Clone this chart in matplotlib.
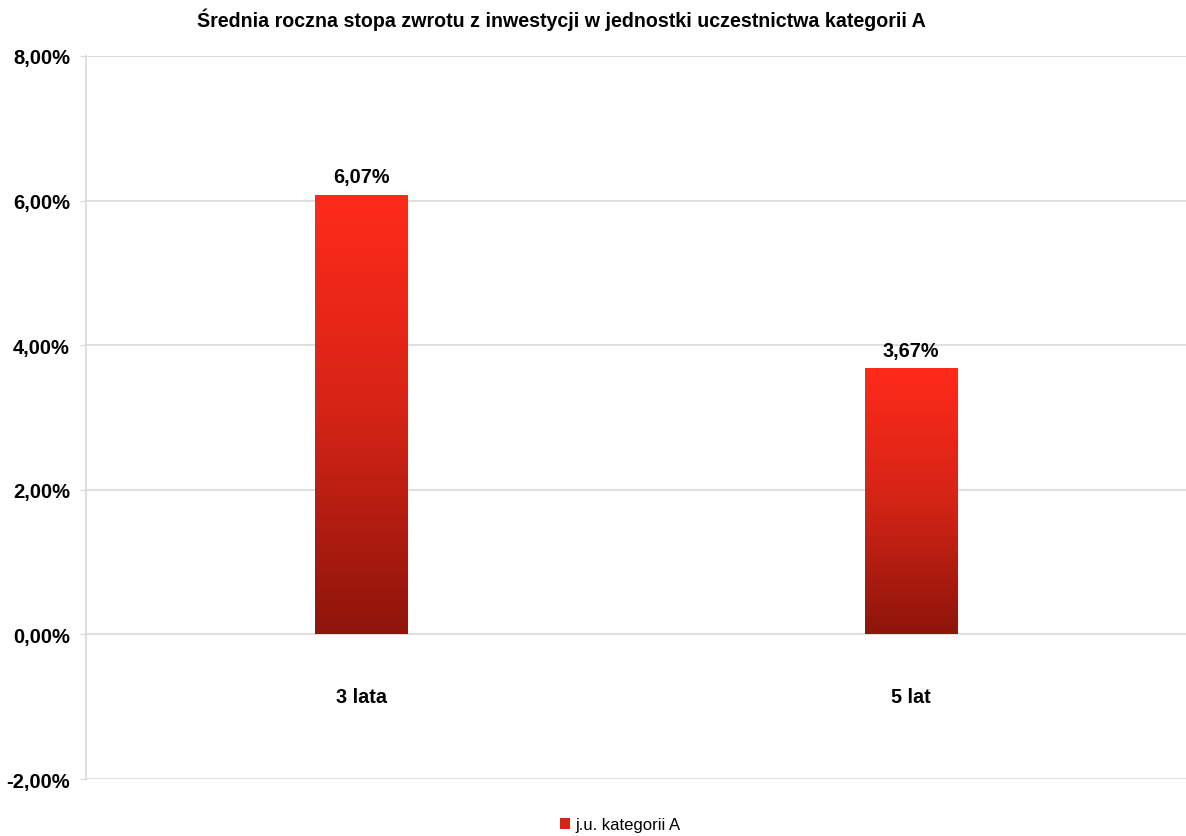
import numpy as np
from matplotlib import pyplot as plt
from matplotlib.colors import LinearSegmentedColormap
from matplotlib.patches import Patch

plt.rcParams['font.family'] = ['Liberation Sans', 'DejaVu Sans']

# data
categories = ['3 lata', '5 lat']
values = [6.07, 3.67]
value_labels = ['6,07%', '3,67%']
yticks = [-2, 0, 2, 4, 6, 8]
ytick_labels = ['-2,00%', '0,00%', '2,00%', '4,00%', '6,00%', '8,00%']
series_name = 'j.u. kategorii A'
title = 'Średnia roczna stopa zwrotu z inwestycji w jednostki uczestnictwa kategorii A'

fig = plt.figure(figsize=(11.86, 8.37), dpi=100)
ax = fig.add_axes([86/1186, 0.0681, 1 - 86/1186, 0.9319 - 0.0681])

# gradient from dark red (bottom) to bright red (top)
cmap = LinearSegmentedColormap.from_list('redgrad', ['#8e150b', '#d42416', '#ff2a1a'])
grad = np.linspace(0, 1, 256).reshape(-1, 1)
width = 0.168
x = np.arange(len(categories))
for xi, v, lab in zip(x, values, value_labels):
    ax.bar(xi, v, width=width, color='none', zorder=3)
    ax.imshow(grad, cmap=cmap, origin='lower', aspect='auto',
              extent=[xi - width/2, xi + width/2, 0, v], zorder=3)
    ax.text(xi, v + 0.13, lab, ha='center', va='bottom', fontsize=14.3, fontweight='bold')
    ax.text(xi, -0.86, categories[xi], ha='center', va='center', fontsize=14.3, fontweight='bold')

ax.set_xlim(-0.5, len(categories) - 0.5)
ax.set_ylim(-2, 8)
ax.set_yticks(yticks)
ax.set_yticklabels(ytick_labels, fontsize=14.5, fontweight='bold')
ax.set_xticks([])
ax.yaxis.grid(True, color='#d9d9d9', linewidth=1.2, zorder=0)
ax.tick_params(axis='y', length=4.5, color='#d9d9d9', pad=7)
for s in ['top', 'right', 'bottom']:
    ax.spines[s].set_visible(False)
ax.spines['left'].set_color('#d9d9d9')
ax.spines['left'].set_linewidth(1.2)

fig.text(561/1186, 1 - 20/837, title, ha='center', va='center', fontsize=14.1, fontweight='bold')
fig.legend(handles=[Patch(facecolor='#d42416', label=series_name)], loc='center',
           bbox_to_anchor=(620/1186, 1 - 826/837), frameon=False, fontsize=12,
           handlelength=0.6, handleheight=0.6, handletextpad=0.3)

fig.savefig('out.png', dpi=100)
